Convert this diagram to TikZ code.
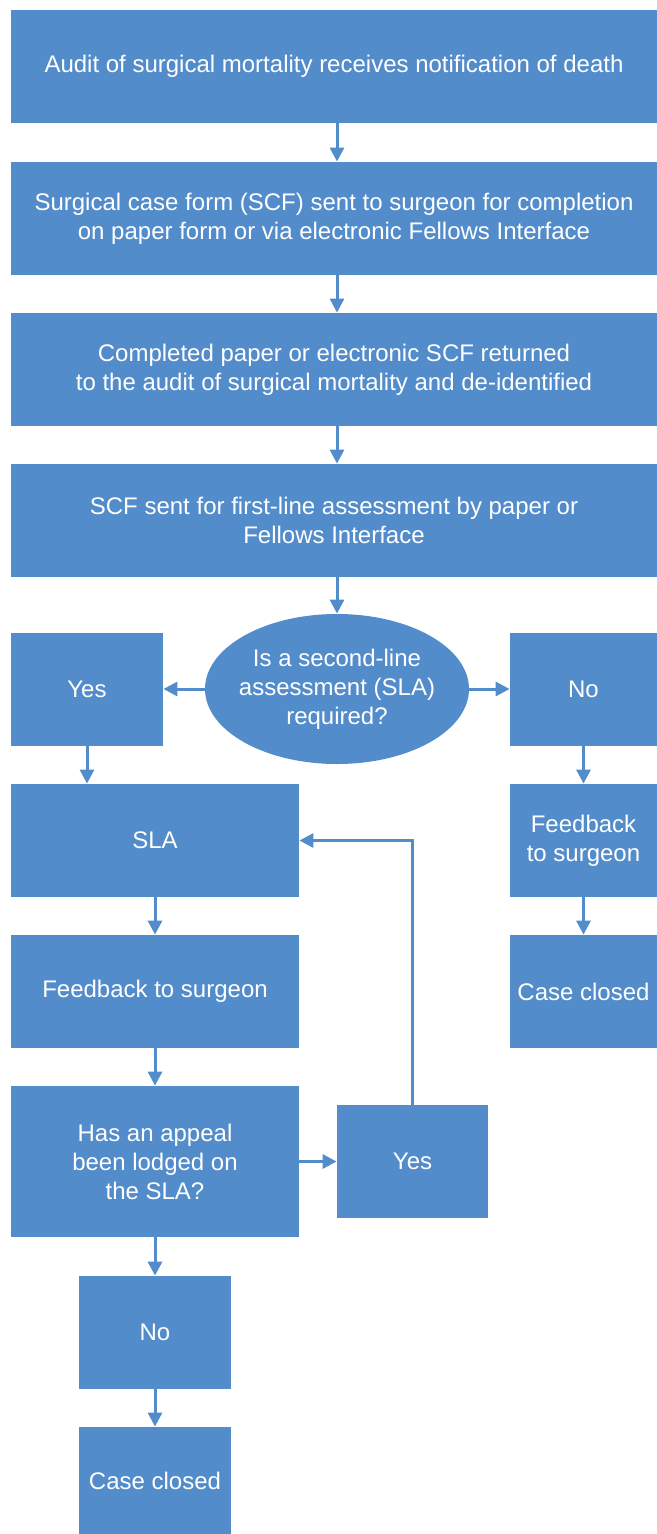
\documentclass[tikz,border=0pt]{standalone}
\usepackage{fontspec}
\setmainfont{Liberation Sans}
\usetikzlibrary{shapes.geometric,arrows.meta}
\definecolor{boxblue}{HTML}{538CCA}
\begin{document}
\begin{tikzpicture}[x=0.5pt,y=-0.5pt,
  box/.style={rectangle,fill=boxblue,text=white,inner sep=0pt,align=center,
    font=\fontsize{12}{14.5}\selectfont,minimum height=56.5pt},
  oval/.style={ellipse,fill=boxblue,text=white,inner ysep=0pt,inner xsep=-2.5pt,align=center,
    font=\fontsize{12}{14.5}\selectfont,minimum width=132pt,minimum height=75pt},
  arr/.style={draw=boxblue,line width=1.5pt,-{Triangle[length=7pt,width=7pt]}}]
\useasboundingbox (0,0) rectangle (657,1534);
\coordinate (mid) at (337,0);
\node[box,minimum width=323pt] (b1) at (334,66.5) {Audit of surgical mortality receives notification of death};
\node[box,minimum width=323pt] (b2) at (334,218.5) {Surgical case form (SCF) sent to surgeon for completion\\on paper form or via electronic Fellows Interface};
\node[box,minimum width=323pt] (b3) at (334,369.5) {Completed paper or electronic SCF returned\\to the audit of surgical mortality and de-identified};
\node[box,minimum width=323pt] (b4) at (334,520.5) {SCF sent for first-line assessment by paper or\\Fellows Interface};
\node[oval] (q1) at (337,689) {Is a second-line\\assessment (SLA)\\required?};
\node[box,minimum width=76pt] (yes1) at (87,689.5) {Yes};
\node[box,minimum width=73.5pt] (no1) at (583.5,689.5) {No};
\node[box,minimum width=144pt] (sla) at (155,840.5) {SLA};
\node[box,minimum width=144pt] (fbl) at (155,991.5) {Feedback to surgeon};
\node[box,minimum width=144pt,minimum height=75.5pt] (app) at (155,1161.5) {Has an appeal\\been lodged on\\the SLA?};
\node[box,minimum width=75.5pt] (yes2) at (412.5,1161.5) {Yes};
\node[box,minimum width=76pt] (no2) at (155,1332.5) {No};
\node[box,minimum width=76pt,minimum height=53.5pt] (ccl) at (155,1480.5) {Case closed};
\node[box,minimum width=73.5pt] (fbr) at (583.5,840.5) {Feedback\\to surgeon};
\node[box,minimum width=73.5pt] (ccr) at (583.5,991.5) {Case closed};
\draw[arr] (b1.south -| mid) -- (b2.north -| mid);
\draw[arr] (b2.south -| mid) -- (b3.north -| mid);
\draw[arr] (b3.south -| mid) -- (b4.north -| mid);
\draw[arr] (b4.south -| mid) -- (q1.north);
\draw[arr] (q1.west) -- (yes1.east |- q1.west);
\draw[arr] (q1.east) -- (no1.west |- q1.east);
\draw[arr] (yes1.south) -- (sla.north -| yes1.south);
\draw[arr] (no1.south) -- (fbr.north);
\draw[arr] (fbr.south) -- (ccr.north);
\draw[arr] (sla.south) -- (fbl.north);
\draw[arr] (fbl.south) -- (app.north);
\draw[arr] (app.east) -- (yes2.west);
\draw[arr] (yes2.north) |- (sla.east);
\draw[arr] (app.south) -- (no2.north);
\draw[arr] (no2.south) -- (ccl.north);
\end{tikzpicture}
\end{document}
